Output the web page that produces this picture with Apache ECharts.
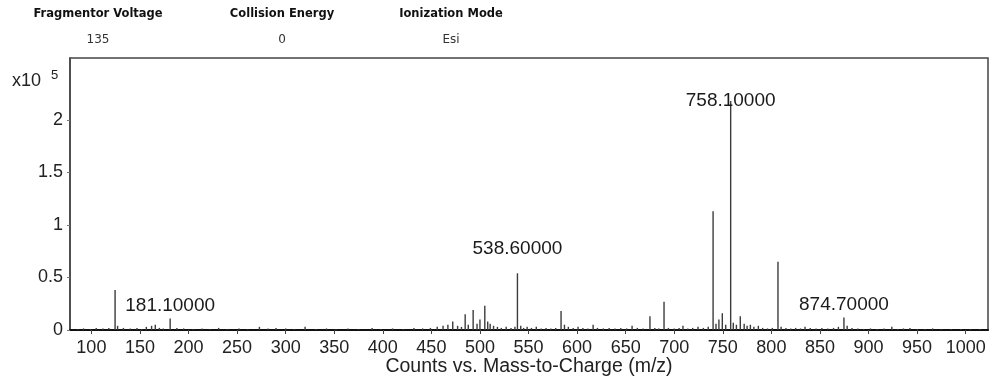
<!DOCTYPE html>
<html>
<head>
<meta charset="utf-8">
<script src="https://cdn.jsdelivr.net/npm/echarts@6/dist/echarts.min.js"></script>
<style>html,body{margin:0;padding:0;background:#fff}#c{width:1000px;height:381px}</style>
</head>
<body>
<div id="c"></div>
<script>
// Header info
const headerTitles = ['Fragmentor Voltage', 'Collision Energy', 'Ionization Mode'];
const headerValues = ['135', '0', 'Esi'];

// Axis ticks
const xTicks = [100,150,200,250,300,350,400,450,500,550,600,650,700,750,800,850,900,950,1000];
const yTicks = [0,0.5,1,1.5,2];

// Spectrum: m/z and intensity (x10^5 counts)
const peakMz = [86,92,99,105,112,118,124.4,127,133,140,147,152,156.6,162,165.8,170,174,181.1,188,195,205,214,222,231,240,252,261,273,282,290,300,309,320,331,342,352,364,375,389,398,410,421,432,441,449,456,462,467,472,477,481,484.8,488,493,497,500,505,508,510.5,514,518,522,527,532,536,538.6,542,545,548.6,553,558,563,568,573,578,583.5,587,591,596,601,606,611,616.5,621,627,633,639,645,651,656.6,662,668,675,680,684,689.5,694,700,705,709,714,719,724.5,730,735,740,743,746,749.5,753,758.1,760.8,764,768,772,775,778.4,782,786.6,791,796,801,806.8,810,815,820,825,830,834.6,840,846,852,858,864,869,874.7,878,883,889,895,902,909,916,924,930,936,942.6,950,958,966,975,985,995,1005,1015];
const peakIntensity = [0.01,0.015,0.01,0.02,0.015,0.02,0.38,0.04,0.02,0.015,0.02,0.01,0.03,0.04,0.05,0.02,0.015,0.11,0.02,0.015,0.01,0.015,0.01,0.02,0.01,0.015,0.01,0.03,0.015,0.02,0.015,0.01,0.03,0.01,0.015,0.01,0.015,0.01,0.02,0.01,0.015,0.01,0.02,0.015,0.02,0.03,0.04,0.05,0.08,0.04,0.03,0.15,0.05,0.19,0.06,0.1,0.23,0.08,0.06,0.04,0.03,0.02,0.03,0.02,0.03,0.54,0.04,0.02,0.03,0.02,0.03,0.015,0.02,0.015,0.02,0.18,0.05,0.03,0.02,0.03,0.02,0.015,0.05,0.02,0.015,0.02,0.015,0.02,0.015,0.04,0.02,0.015,0.13,0.02,0.015,0.27,0.02,0.015,0.02,0.04,0.015,0.02,0.03,0.02,0.03,1.13,0.06,0.1,0.16,0.05,2.18,0.07,0.05,0.13,0.06,0.04,0.05,0.03,0.04,0.02,0.015,0.02,0.65,0.03,0.02,0.015,0.02,0.015,0.03,0.02,0.015,0.02,0.015,0.02,0.03,0.12,0.04,0.02,0.015,0.01,0.015,0.01,0.015,0.03,0.01,0.015,0.02,0.01,0.01,0.015,0.01,0.01,0.01,0.01,0.01];

// Annotated peaks
const annoMz = [181.1, 538.6, 758.1, 874.7];
const annoIntensity = [0.11, 0.54, 2.18, 0.12];
const annoText = ['181.10000', '538.60000', '758.10000', '874.70000'];

const labelOffsets = [[0,-13],[0,-25],[0,0],[0,-13]];
const FONT = '"Liberation Sans", Arial, sans-serif';

const chart = echarts.init(document.getElementById('c'), null, {renderer: 'canvas'});

const headerX = [98, 282, 451];
const graphics = [];
headerTitles.forEach((t, i) => {
  graphics.push({type:'text', x: headerX[i], y: 14, style:{text:t, fill:'#111', font:'bold 11.5px "DejaVu Sans", sans-serif', align:'center', verticalAlign:'middle'}});
  graphics.push({type:'text', x: headerX[i], y: 40, style:{text:headerValues[i], fill:'#333', font:'12px "DejaVu Sans", sans-serif', align:'center', verticalAlign:'middle'}});
});
graphics.push({type:'text', x: 12, y: 81, style:{text:'x10', fill:'#222', font:'18px ' + FONT, verticalAlign:'middle'}});
graphics.push({type:'text', x: 51, y: 75, style:{text:'5', fill:'#222', font:'13px ' + FONT, verticalAlign:'middle'}});

const option = {
  animation: false,
  backgroundColor: '#fff',
  grid: {left: 70, right: 12, top: 58, bottom: 51, containLabel: false, outerBoundsMode: 'none', show: true, borderColor: '#444', borderWidth: 1.5, backgroundColor: 'transparent'},
  graphic: graphics,
  xAxis: {
    type: 'value', min: 78, max: 1023,
    name: 'Counts vs. Mass-to-Charge (m/z)', nameLocation: 'middle', nameGap: 27, nameMoveOverlap: false,
    nameTextStyle: {fontFamily: FONT, fontSize: 19.5, color: '#222'},
    axisLine: {show: true, onZero: false, lineStyle: {color: '#111', width: 2}},
    axisTick: {show: true, length: 4, lineStyle: {color: '#444'}, customValues: xTicks},
    axisLabel: {customValues: xTicks, formatter: v => String(v), fontFamily: FONT, fontSize: 18, color: '#222', margin: 9},
    splitLine: {show: false}
  },
  yAxis: {
    type: 'value', min: 0, max: 2.59,
    axisLine: {show: true, lineStyle: {color: '#444', width: 1.5}},
    axisTick: {show: true, length: 3, lineStyle: {color: '#777'}, customValues: yTicks},
    axisLabel: {customValues: yTicks, fontFamily: FONT, fontSize: 18, color: '#222', margin: 7},
    splitLine: {show: false}
  },
  series: [
    {
      type: 'bar',
      barWidth: 1.4,
      itemStyle: {color: '#3c3c3c'},
      data: peakMz.map((m, i) => [m, peakIntensity[i]]),
      z: 2
    },
    {
      type: 'scatter',
      symbolSize: 0,
      itemStyle: {opacity: 1},
      data: annoMz.map((m, i) => ({
        value: [m, annoIntensity[i]],
        label: {offset: labelOffsets[i]}
      })),
      label: {
        show: true, position: 'inside',
        formatter: p => annoText[p.dataIndex],
        fontFamily: FONT, fontSize: 19, color: '#1a1a1a', opacity: 1, textBorderWidth: 0
      },
      z: 5
    }
  ]
};
chart.setOption(option);
</script>
</body>
</html>
